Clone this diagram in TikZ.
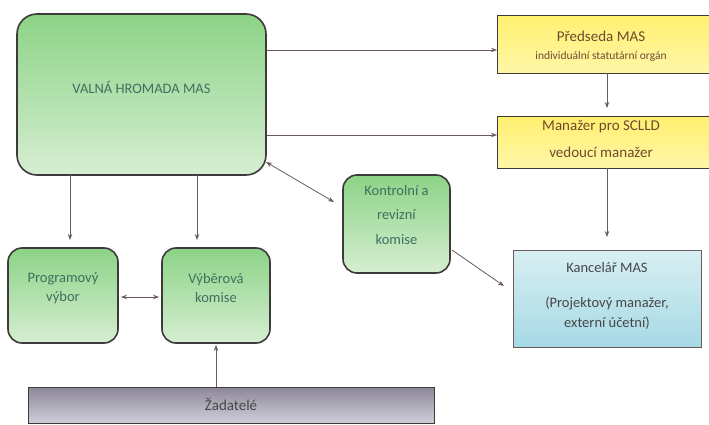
\documentclass[tikz,border=0pt]{standalone}
\usepackage{fontspec}
\setmainfont{Carlito}
\usetikzlibrary{arrows.meta}
\definecolor{greentext}{HTML}{3F7060}
\definecolor{browntext}{HTML}{6E4A2E}
\definecolor{graytext}{HTML}{474747}
\definecolor{edge}{HTML}{3E3A3A}
\definecolor{linec}{HTML}{6A5A5E}
\definecolor{gtop}{HTML}{8CD386}
\definecolor{gbot}{HTML}{D6EED2}
\definecolor{ytop}{HTML}{FFF070}
\definecolor{ybot}{HTML}{FFF6A8}
\definecolor{btop}{HTML}{D8EFF2}
\definecolor{bbot}{HTML}{A6D9E6}
\definecolor{gytop}{HTML}{8E8898}
\definecolor{gybot}{HTML}{D0D0DC}
\tikzset{
  greenbox/.style={draw=edge, line width=1.6pt, rounded corners=14pt, top color=gtop, bottom color=gbot},
  yellowbox/.style={draw=edge, line width=1.4pt, top color=ytop, bottom color=ybot},
  bluebox/.style={draw=linec, line width=1.0pt, top color=btop, bottom color=bbot},
  graybox/.style={draw=edge, line width=1.4pt, top color=gytop, bottom color=gybot},
  gtext/.style={text=greentext, align=center, font=\fontsize{14.5}{19}\selectfont},
  conn/.style={draw=linec, line width=0.8pt, -{Stealth[length=6pt,width=4.5pt]}},
  dconn/.style={draw=linec, line width=0.8pt, {Stealth[length=6pt,width=4.5pt]}-{Stealth[length=6pt,width=4.5pt]}}
}
\begin{document}
\begin{tikzpicture}[x=1pt,y=-1pt]
\path[use as bounding box] (0,0) rectangle (709,425);
\clip (0,0) rectangle (709,425);
\fill[white] (0,0) rectangle (709,425);
% nodes
\node[greenbox, minimum width=249pt, minimum height=161pt, rounded corners=20pt] (valna) at (141.5,94.5) {};
\node[gtext] (valnat) at (141.5,87) {VALNÁ HROMADA MAS};
\node[yellowbox, minimum width=230pt, minimum height=58pt, anchor=north west] (pred) at (497,15) {};
\node[text=browntext, align=center, font=\fontsize{15}{18}\selectfont] (predt) at (601,46) {Předseda MAS\\{\fontsize{11.5}{12}\selectfont individuální statutární orgán}};
\node[yellowbox, minimum width=230pt, minimum height=52pt, anchor=north west] (man) at (497,116) {};
\node[text=browntext, align=center, font=\fontsize{15}{27}\selectfont] (mant) at (601,139) {Manažer pro SCLLD\\vedoucí manažer};
\node[greenbox, minimum width=107pt, minimum height=98pt] (kon) at (396.5,224) {};
\node[gtext, font=\fontsize{14.5}{24.5}\selectfont] (kont) at (396.5,215) {Kontrolní a\\revizní\\komise};
\node[bluebox, minimum width=188pt, minimum height=97pt] (kanc) at (607,298.5) {};
\node[text=graytext, align=center, font=\fontsize{14.5}{20}\selectfont] (kanct) at (607,296) {Kancelář MAS\\[15pt](Projektový manažer,\\externí účetní)};
\node[greenbox, minimum width=110pt, minimum height=95pt] (prog) at (63,295.5) {};
\node[gtext] (progt) at (63,288) {Programový\\výbor};
\node[greenbox, minimum width=108pt, minimum height=95pt] (vyb) at (216,295.5) {};
\node[gtext] (vybt) at (216,288) {Výběrová\\komise};
\node[graybox, minimum width=406pt, minimum height=36pt, anchor=north west] (zad) at (28,387) {};
\node[text=graytext, font=\fontsize{15}{18}\selectfont] (zadt) at (231,404) {Žadatelé};
% connectors
\draw[conn] (valna.east |- 0,50) -- (pred.west |- 0,50);
\draw[conn] (valna.east |- 0,135) -- (man.west |- 0,135);
\draw[conn] (607,73) -- (607,108);
\draw[conn] (607,168) -- (607,237);
\draw[conn] (70,175) -- (70,240);
\draw[conn] (197,175) -- (197,240);
\draw[dconn] (266,162) -- (334,202);
\draw[conn] (452,250) -- (504,286);
\draw[dconn] (121,297) -- (159,297);
\draw[conn] (216,387) -- (216,345);
\end{tikzpicture}
\end{document}
